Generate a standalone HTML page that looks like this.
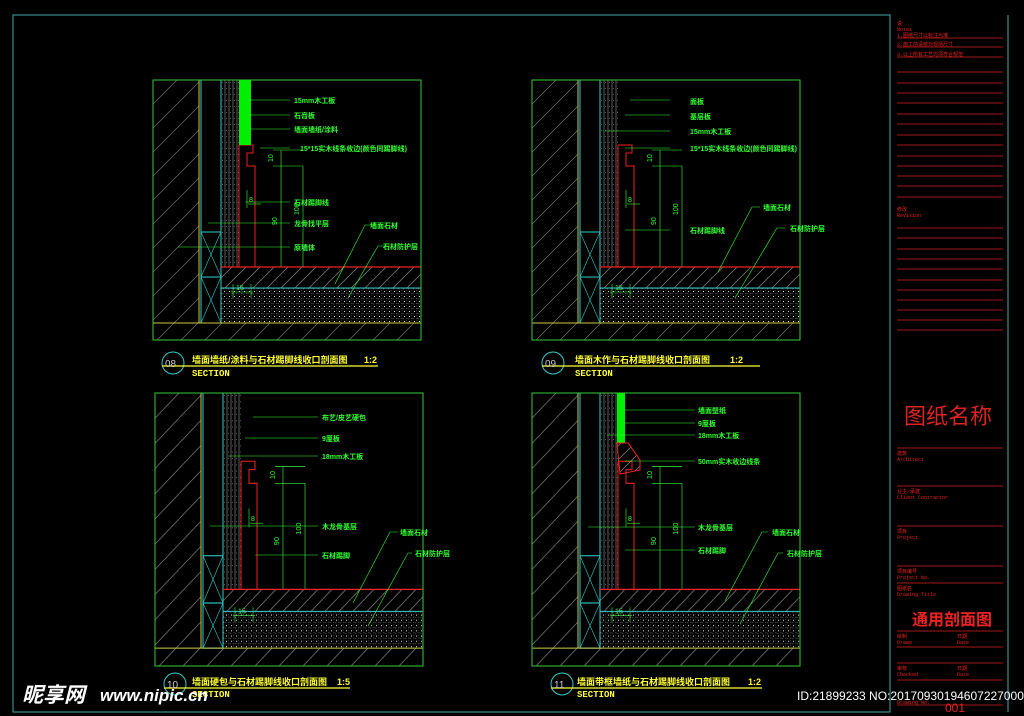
<!DOCTYPE html>
<html><head><meta charset="utf-8"><style>
html,body{margin:0;padding:0;background:#000;width:1024px;height:716px;overflow:hidden}
svg{display:block}
.l{font-family:"Liberation Sans","Noto Sans CJK SC",sans-serif;font-size:7px;fill:#3f3;font-weight:bold}
.t{font-family:"Liberation Sans","Noto Sans CJK SC",sans-serif;font-size:9px;fill:#ff3;font-weight:bold}
.s{font-family:"Liberation Mono",monospace;font-size:9px;fill:#ff3;font-weight:bold}
.r{font-family:"Liberation Mono","Noto Sans CJK SC",monospace;font-size:5px;fill:#e22}
.d{font-family:"Liberation Sans",sans-serif;font-size:7px;fill:#3f3}
</style></head><body>
<svg width="1024" height="716" viewBox="0 0 1024 716" xmlns="http://www.w3.org/2000/svg">
<defs>
<pattern id="h1" width="24" height="24" patternUnits="userSpaceOnUse">
<path d="M0,24 L24,0" stroke="#8a8a8a" stroke-width="0.6"/>
</pattern>
<pattern id="h2" width="14" height="14" patternUnits="userSpaceOnUse">
<path d="M0,14 L14,0" stroke="#8a8a8a" stroke-width="0.7"/>
</pattern>
<pattern id="dt" width="5" height="5" patternUnits="userSpaceOnUse">
<rect x="1" y="1" width="1" height="1" fill="#ddd"/><rect x="3.5" y="3" width="0.8" height="0.8" fill="#aaa"/><rect x="3" y="0.5" width="0.6" height="0.6" fill="#888"/><rect x="0.5" y="3.5" width="0.7" height="0.7" fill="#bbb"/>
</pattern>
<pattern id="ly" width="4" height="6" patternUnits="userSpaceOnUse">
<rect x="1" y="2" width="0.8" height="0.8" fill="#888"/>
</pattern>
<g id="W">
<rect x="0" y="0" width="46" height="243" fill="url(#h1)"/>
<line x1="46" y1="0" x2="46" y2="243" stroke="#cc4" stroke-width="1"/>
<line x1="48" y1="0" x2="48" y2="243" stroke="#3cc" stroke-width="1"/>
<line x1="68" y1="0" x2="68" y2="243" stroke="#3cc" stroke-width="1"/>
<rect x="68" y="0" width="18" height="187" fill="url(#ly)"/>
<g stroke="#999" stroke-width="0.6"><line x1="72" y1="0" x2="72" y2="187"/><line x1="76" y1="0" x2="76" y2="187"/><line x1="80" y1="0" x2="80" y2="187"/><line x1="84" y1="0" x2="84" y2="187"/></g>
<path d="M86,65 L100,65 L100,73 L94,73 L94,86 L102,86 L102,187" fill="none" stroke="#e22" stroke-width="1"/>
<line x1="86" y1="65" x2="86" y2="187" stroke="#e22" stroke-width="1"/>
<g stroke="#3f3" stroke-width="0.6" fill="none">
<line x1="128" y1="70" x2="128" y2="187"/><line x1="120" y1="86" x2="150" y2="86"/><line x1="120" y1="70" x2="150" y2="70"/>
<line x1="150" y1="86" x2="150" y2="187"/>
<line x1="95" y1="124" x2="108" y2="124"/><line x1="94" y1="110" x2="94" y2="128"/>
<line x1="78" y1="212" x2="100" y2="212"/><line x1="80" y1="204" x2="80" y2="218"/><line x1="98" y1="204" x2="98" y2="218"/>
</g>
<text class="d" x="120" y="82" transform="rotate(-90 120 82)">10</text>
<text class="d" x="124" y="145" transform="rotate(-90 124 145)">90</text>
<text class="d" x="146" y="135" transform="rotate(-90 146 135)">100</text>
<text class="d" x="96" y="122">8</text>
<text class="d" x="83" y="210">15</text>
</g>
<g id="P1">
<use href="#W"/>
<rect x="48" y="152" width="20" height="45" fill="none" stroke="#3cc"/><path d="M48,152 L68,197 M68,152 L48,197" stroke="#3cc" stroke-width="0.6"/>
<rect x="48" y="197" width="20" height="46" fill="none" stroke="#3cc"/><path d="M48,197 L68,243 M68,197 L48,243" stroke="#3cc" stroke-width="0.6"/>
<rect x="68" y="187" width="200" height="21" fill="url(#h2)"/>
<rect x="68" y="208" width="200" height="35" fill="url(#dt)"/>
<line x1="68" y1="187" x2="268" y2="187" stroke="#e22" stroke-width="1.2"/>
<line x1="68" y1="208" x2="268" y2="208" stroke="#3cc" stroke-width="1"/>
<rect x="0" y="243" width="268" height="17" fill="url(#h1)"/>
<line x1="0" y1="243" x2="268" y2="243" stroke="#cc4" stroke-width="1"/>
<rect x="0" y="0" width="268" height="260" fill="none" stroke="#3c3" stroke-width="1"/>
</g>
<g id="P2">
<g transform="scale(1,1.05)">
<use href="#W"/>
<rect x="48" y="155" width="20" height="45" fill="none" stroke="#3cc"/><path d="M48,155 L68,200 M68,155 L48,200" stroke="#3cc" stroke-width="0.6"/>
<rect x="48" y="200" width="20" height="43" fill="none" stroke="#3cc"/><path d="M48,200 L68,243 M68,200 L48,243" stroke="#3cc" stroke-width="0.6"/>
<rect x="68" y="187" width="200" height="21" fill="url(#h2)"/>
<rect x="68" y="208" width="200" height="35" fill="url(#dt)"/>
<line x1="68" y1="187" x2="268" y2="187" stroke="#e22" stroke-width="1.2"/>
<line x1="68" y1="208" x2="268" y2="208" stroke="#3cc" stroke-width="1"/>
<rect x="0" y="243" width="268" height="17" fill="url(#h1)"/>
<line x1="0" y1="243" x2="268" y2="243" stroke="#cc4" stroke-width="1"/>
</g>
<rect x="0" y="0" width="268" height="273" fill="none" stroke="#3c3" stroke-width="1"/>
</g>
</defs>

<rect x="13" y="15" width="877" height="697" fill="none" stroke="#4aa" stroke-width="1"/>

<use href="#P1" transform="translate(153,80)"/>
<rect x="239" y="80" width="12" height="65" fill="#0e0"/>
<use href="#P1" transform="translate(532,80)"/>
<use href="#P2" transform="translate(155,393)"/>
<use href="#P2" transform="translate(532,393)"/>
<rect x="617" y="393" width="8" height="50" fill="#0e0"/>
<path d="M617,443 L628,443 L640,460 L640,470 L620,474 Z" fill="url(#h2)" stroke="#e22" stroke-width="1"/>

<g stroke="#3f3" stroke-width="0.6" fill="none">
<path d="M248,100 H290 M248,115 H290 M250,129 H290 M260,148 H290 M245,202 H290 M208,223 H290 M178,247 H290"/>
<path d="M335,284 L365,225 H375 M348,298 L378,246 H390"/>
<path d="M630,100 H670 M625,115 H670 M605,131 H670 M625,148 H670 M625,230 H670"/>
<path d="M718,272 L752,207 H760 M735,298 L777,228 H785"/>
<path d="M253,417 H318 M245,438 H318 M228,456 H318 M210,526 H318 M255,555 H318"/>
<path d="M353,603 L390,532 H398 M368,626 L408,553 H412"/>
<path d="M625,410 H695 M625,423 H695 M607,435 H695 M625,461 H695 M588,527 H695 M625,550 H695"/>
<path d="M725,601 L762,532 H768 M740,624 L778,553 H783"/>
</g>

<text class="l" x="294" y="103">15mm木工板</text>
<text class="l" x="294" y="118">石膏板</text>
<text class="l" x="294" y="132">墙面墙纸/涂料</text>
<text class="l" x="300" y="151">15*15实木线条收边(颜色同踢脚线)</text>
<text class="l" x="294" y="205">石材踢脚线</text>
<text class="l" x="294" y="226">龙骨找平层</text>
<text class="l" x="294" y="250">原墙体</text>
<text class="l" x="370" y="228">墙面石材</text>
<text class="l" x="383" y="249">石材防护层</text>
<text class="l" x="690" y="104">面板</text>
<text class="l" x="690" y="119">基层板</text>
<text class="l" x="690" y="134">15mm木工板</text>
<text class="l" x="690" y="151">15*15实木线条收边(颜色同踢脚线)</text>
<text class="l" x="690" y="233">石材踢脚线</text>
<text class="l" x="763" y="210">墙面石材</text>
<text class="l" x="790" y="231">石材防护层</text>
<text class="l" x="322" y="420">布艺/皮艺硬包</text>
<text class="l" x="322" y="441">9厘板</text>
<text class="l" x="322" y="459">18mm木工板</text>
<text class="l" x="322" y="529">木龙骨基层</text>
<text class="l" x="322" y="558">石材踢脚</text>
<text class="l" x="400" y="535">墙面石材</text>
<text class="l" x="415" y="556">石材防护层</text>
<text class="l" x="698" y="413">墙面壁纸</text>
<text class="l" x="698" y="426">9厘板</text>
<text class="l" x="698" y="438">18mm木工板</text>
<text class="l" x="698" y="464">50mm实木收边线条</text>
<text class="l" x="698" y="530">木龙骨基层</text>
<text class="l" x="698" y="553">石材踢脚</text>
<text class="l" x="772" y="535">墙面石材</text>
<text class="l" x="787" y="556">石材防护层</text>

<g fill="none" stroke="#3cc" stroke-width="1">
<circle cx="173" cy="363" r="11"/><circle cx="553" cy="363" r="11"/><circle cx="175" cy="684" r="11"/><circle cx="562" cy="684" r="11"/>
</g>
<g stroke="#ff3" stroke-width="1.2">
<line x1="162" y1="366" x2="378" y2="366"/><line x1="542" y1="366" x2="760" y2="366"/>
<line x1="164" y1="688" x2="350" y2="688"/><line x1="551" y1="688" x2="762" y2="688"/>
</g>
<text x="165" y="367" font-family="Liberation Sans" font-size="10" fill="#ccc">08</text>
<text x="545" y="367" font-family="Liberation Sans" font-size="10" fill="#ccc">09</text>
<text x="167" y="688" font-family="Liberation Sans" font-size="10" fill="#ccc">10</text>
<text x="554" y="688" font-family="Liberation Sans" font-size="10" fill="#ccc">11</text>
<text class="t" x="192" y="363">墙面墙纸/涂料与石材踢脚线收口剖面图</text><text class="t" x="364" y="363" font-weight="normal">1:2</text>
<text class="s" x="192" y="376">SECTION</text>
<text class="t" x="575" y="363">墙面木作与石材踢脚线收口剖面图</text><text class="t" x="730" y="363" font-weight="normal">1:2</text>
<text class="s" x="575" y="376">SECTION</text>
<text class="t" x="192" y="685">墙面硬包与石材踢脚线收口剖面图</text><text class="t" x="337" y="685" font-weight="normal">1:5</text>
<text class="s" x="192" y="697">SECTION</text>
<text class="t" x="577" y="685">墙面带框墙纸与石材踢脚线收口剖面图</text><text class="t" x="748" y="685" font-weight="normal">1:2</text>
<text class="s" x="577" y="697">SECTION</text>

<line x1="890" y1="15" x2="890" y2="712" stroke="#4aa"/>
<line x1="1008" y1="15" x2="1008" y2="712" stroke="#4aa"/>
<g stroke="#d22" stroke-width="0.8">
<line x1="897" y1="38" x2="1003" y2="38"/><line x1="897" y1="47" x2="1003" y2="47"/><line x1="897" y1="57" x2="1003" y2="57"/>
<line x1="897" y1="72" x2="1003" y2="72"/><line x1="897" y1="83" x2="1003" y2="83"/><line x1="897" y1="93" x2="1003" y2="93"/><line x1="897" y1="103" x2="1003" y2="103"/><line x1="897" y1="114" x2="1003" y2="114"/><line x1="897" y1="124" x2="1003" y2="124"/><line x1="897" y1="135" x2="1003" y2="135"/><line x1="897" y1="145" x2="1003" y2="145"/><line x1="897" y1="156" x2="1003" y2="156"/><line x1="897" y1="166" x2="1003" y2="166"/><line x1="897" y1="176" x2="1003" y2="176"/><line x1="897" y1="186" x2="1003" y2="186"/><line x1="897" y1="197" x2="1003" y2="197"/>
<line x1="897" y1="228" x2="1003" y2="228"/><line x1="897" y1="238" x2="1003" y2="238"/><line x1="897" y1="249" x2="1003" y2="249"/><line x1="897" y1="259" x2="1003" y2="259"/><line x1="897" y1="269" x2="1003" y2="269"/><line x1="897" y1="280" x2="1003" y2="280"/><line x1="897" y1="290" x2="1003" y2="290"/><line x1="897" y1="300" x2="1003" y2="300"/><line x1="897" y1="310" x2="1003" y2="310"/><line x1="897" y1="320" x2="1003" y2="320"/><line x1="897" y1="330" x2="1003" y2="330"/>
<line x1="897" y1="448" x2="1003" y2="448"/><line x1="897" y1="486" x2="1003" y2="486"/><line x1="897" y1="526" x2="1003" y2="526"/><line x1="897" y1="566" x2="1003" y2="566"/><line x1="897" y1="583" x2="1003" y2="583"/><line x1="897" y1="631" x2="1003" y2="631"/><line x1="897" y1="647" x2="1003" y2="647"/><line x1="897" y1="663" x2="1003" y2="663"/><line x1="897" y1="680" x2="1003" y2="680"/><line x1="897" y1="705" x2="1003" y2="705"/>
</g>
<text class="r" x="897" y="25">说</text><text class="r" x="897" y="31">Notes</text>
<text class="r" x="897" y="37">1.图纸尺寸以标注为准</text><text class="r" x="897" y="46">2.施工前请核对现场尺寸</text><text class="r" x="897" y="56">3.以上所有工艺均须符合规范</text>
<text class="r" x="897" y="211">修改</text><text class="r" x="897" y="217">Revision</text>
<text x="904" y="424" font-family="Noto Sans CJK SC,sans-serif" font-size="22" fill="#d22">图纸名称</text>
<text class="r" x="897" y="455">建筑</text><text class="r" x="897" y="461">Architect</text>
<text class="r" x="897" y="493">业主/承建</text><text class="r" x="897" y="499">Client Contractor</text>
<text class="r" x="897" y="533">项目</text><text class="r" x="897" y="539">Project</text>
<text class="r" x="897" y="573">项目编号</text><text class="r" x="897" y="579">Project No.</text>
<text class="r" x="897" y="590">图纸名</text><text class="r" x="897" y="596">Drawing Title</text>
<text x="912" y="625" font-family="Noto Sans CJK SC,sans-serif" font-size="16" font-weight="bold" fill="#e22">通用剖面图</text>
<text class="r" x="897" y="638">绘制</text><text class="r" x="897" y="644">Drawn</text><text class="r" x="957" y="638">日期</text><text class="r" x="957" y="644">Date</text>
<text class="r" x="897" y="670">审核</text><text class="r" x="897" y="676">Checked</text><text class="r" x="957" y="670">日期</text><text class="r" x="957" y="676">Date</text>
<text class="r" x="897" y="704">Drawing No.</text><text x="945" y="712" font-family="Liberation Sans" font-size="12" fill="#e22">001</text>

<text x="22" y="702" font-family="Noto Sans CJK SC,sans-serif" font-size="21" font-weight="bold" font-style="italic" fill="#fff">昵享网</text>
<text x="100" y="701" font-family="Liberation Sans" font-size="17" font-weight="bold" font-style="italic" fill="#fff">www.nipic.cn</text>
<text x="797" y="700" font-family="Liberation Sans" font-size="12" fill="#fff">ID:21899233 NO:20170930194607227000</text>
</svg>
</body></html>
